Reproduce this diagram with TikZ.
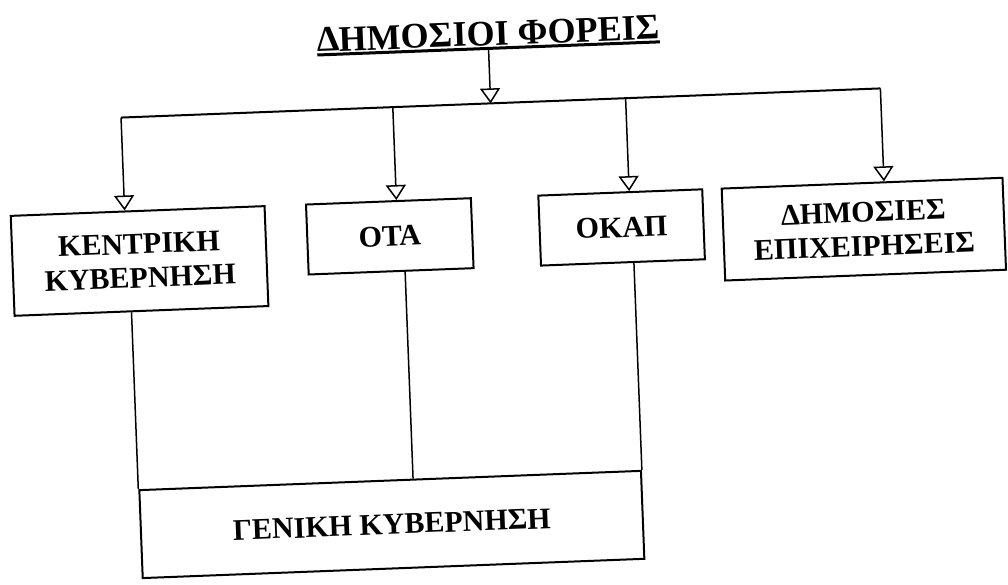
\documentclass[tikz,border=0pt]{standalone}
\usepackage{fontspec}
\setmainfont{Liberation Serif}
\usetikzlibrary{arrows.meta,calc}
\begin{document}
\begin{tikzpicture}[x=1pt,y=-1pt,
  box/.style={draw, line width=2pt, inner sep=0pt, align=center, anchor=north,
    font=\fontsize{30}{34}\selectfont\bfseries},
  conn/.style={line width=1.5pt},
  arr/.style={conn, -{Triangle[open, width=20pt, length=15pt, line width=1.5pt]}},
]
\useasboundingbox (0,0) rectangle (1008,584);
\begin{scope}[rotate around={2.2:(504,292)}, transform shape]
  % title
  \node[font=\fontsize{36}{40}\selectfont\bfseries, inner sep=0pt, anchor=base] (t) at (498,45) {ΔΗΜΟΣΙΟΙ ΦΟΡΕΙΣ};
  \coordinate (ulL) at ($(t.base west)!3pt!-90:(t.base east)$);
  \coordinate (ulR) at ($(t.base east)!3pt!90:(t.base west)$);
  \draw[line width=3pt] (ulL) -- (ulR);
  % bus
  \coordinate (bA) at (128,103);
  \coordinate (bB) at (400,103);
  \coordinate (bC) at (633,103);
  \coordinate (bD) at (888,103);
  \coordinate (ulM) at ($(ulL)!0.5!(ulR)$);
  \draw[line width=2pt] (bA) -- (bD);
  \draw[arr] (ulM) -- ($(bA)!(ulM)!(bD)$);
  % boxes
  \node[box, minimum width=254pt, minimum height=100pt] (k) at (141,196) {ΚΕΝΤΡΙΚΗ\\ΚΥΒΕΡΝΗΣΗ};
  \node[box, minimum width=165pt, minimum height=70pt] (o) at (392,196) {ΟΤΑ};
  \node[box, minimum width=164pt, minimum height=70pt] (c) at (624,196) {ΟΚΑΠ};
  \node[box, minimum width=281pt, minimum height=92pt] (d) at (866,196) {ΔΗΜΟΣΙΕΣ\\ΕΠΙΧΕΙΡΗΣΕΙΣ};
  \node[box, minimum width=502pt, minimum height=88pt] (g) at (383,475) {ΓΕΝΙΚΗ ΚΥΒΕΡΝΗΣΗ};
  % drops
  \draw[arr] (bA) -- ($(k.north west)!(bA)!(k.north east)$);
  \draw[arr] (bB) -- ($(o.north west)!(bB)!(o.north east)$);
  \draw[arr] (bC) -- ($(c.north west)!(bC)!(c.north east)$);
  \draw[arr] (bD) -- ($(d.north west)!(bD)!(d.north east)$);
  % lines to general government
  \coordinate (oX) at (406,300);
  \draw[conn] ($(k.south west)!(g.north west)!(k.south east)$) -- (g.north west);
  \draw[conn] ($(o.south west)!(oX)!(o.south east)$) -- ($(g.north west)!(oX)!(g.north east)$);
  \draw[conn] ($(c.south west)!(g.north east)!(c.south east)$) -- (g.north east);
\end{scope}
\end{tikzpicture}
\end{document}
